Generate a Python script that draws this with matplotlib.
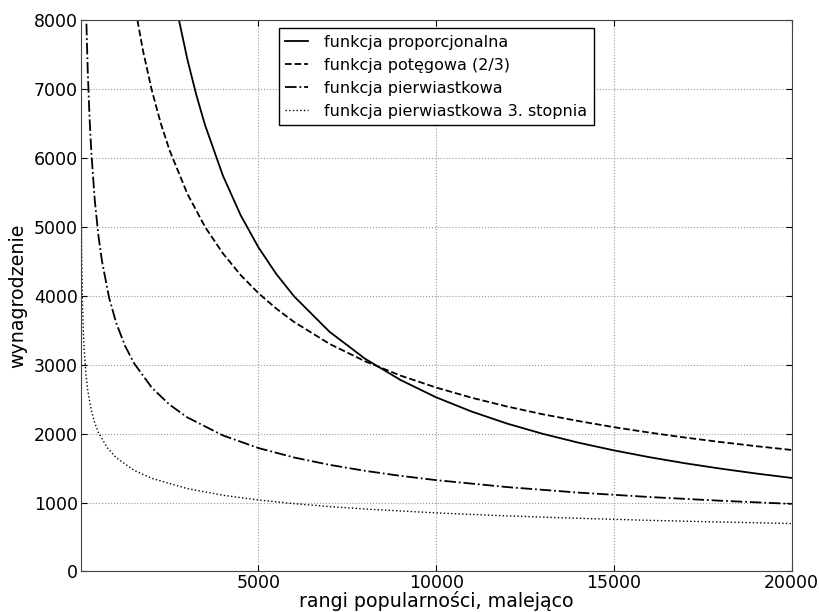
import matplotlib
matplotlib.use('Agg')
import matplotlib.pyplot as plt

# values
x_prop = [2750, 3000, 3250, 3500, 4000, 4500, 5000, 5500, 6000, 7000, 8000, 9000,
          10000, 11000, 12000, 13000, 14000, 15000, 16000, 17000, 18000, 19000, 20000]
y_prop = [8042, 7438, 6924, 6478, 5748, 5172, 4706, 4320, 3996, 3480, 3088, 2779,
          2528, 2321, 2146, 1998, 1870, 1758, 1659, 1571, 1493, 1422, 1358]

x_pow = [1550, 1750, 2000, 2250, 2500, 3000, 3500, 4000, 4500, 5000, 5500, 6000, 7000,
         8000, 9000, 10000, 11000, 12000, 13000, 14000, 15000, 16000, 17000, 18000,
         19000, 20000]
y_pow = [8138, 7568, 6988, 6512, 6115, 5484, 5001, 4618, 4303, 4040, 3817, 3623, 3304,
         3051, 2843, 2670, 2522, 2394, 2282, 2184, 2095, 2016, 1944, 1879,
         1819, 1764]

x_sqrt = [150, 175, 200, 250, 300, 400, 500, 600, 800, 1000, 1250, 1500, 2000, 2500,
          3000, 4000, 5000, 6000, 7000, 8000, 9000, 10000, 12000, 14000, 16000, 18000, 20000]
y_sqrt = [8228, 7694, 7261, 6590, 6087, 5371, 4875, 4504, 3974, 3607, 3274, 3024, 2669, 2422,
          2237, 1975, 1792, 1655, 1548, 1461, 1388, 1326, 1225, 1145, 1081, 1027, 981]

x_cbrt = [1, 2, 3, 5, 7, 10, 15, 20, 30, 50, 75, 100, 150, 200, 300, 400, 500, 750,
          1000, 1500, 2000, 3000, 4000, 5000, 6000, 7000, 8000, 10000, 12000, 14000,
          16000, 18000, 20000]
y_cbrt = [12108, 9915, 8821, 7613, 6908, 6233, 5545, 5104, 4541, 3919, 3486, 3208, 2855,
          2627, 2337, 2151, 2017, 1795, 1652, 1469, 1352, 1203, 1107, 1038, 985, 942, 907,
          850, 807, 772, 742, 718, 696]

labels = ['funkcja proporcjonalna', 'funkcja potęgowa (2/3)',
          'funkcja pierwiastkowa', 'funkcja pierwiastkowa 3. stopnia']

fig = plt.figure(figsize=(8.2, 6.12), dpi=100)
ax = fig.add_axes([0.0984, 0.0662, 0.867, 0.9006])

ax.plot(x_prop, y_prop, 'k-', lw=1.3, label=labels[0])
ax.plot(x_pow, y_pow, 'k--', lw=1.3, label=labels[1])
ax.plot(x_sqrt, y_sqrt, 'k-.', lw=1.3, label=labels[2])
ax.plot(x_cbrt, y_cbrt, 'k:', lw=1.0, label=labels[3])

ax.set_xlim(1, 20000)
ax.set_ylim(0, 8000)
ax.set_xticks([5000, 10000, 15000, 20000])
ax.set_yticks(range(0, 8001, 1000))
ax.grid(True, ls=':', color='#999999', lw=0.8)
ax.tick_params(direction='in', top=True, right=True, labelsize=12.5, pad=2, length=4)
for sp in ax.spines.values():
    sp.set_color('#444444')

ax.set_xlabel('rangi popularności, malejąco', fontsize=13.7, labelpad=-1)
ax.set_ylabel('wynagrodzenie', fontsize=13.7, labelpad=5)

leg = ax.legend(loc='upper center', fontsize=11.5, fancybox=False, borderaxespad=0.5,
                handlelength=1.45, handletextpad=1.0, labelspacing=0.5)
leg.get_frame().set_edgecolor('black')
leg.get_frame().set_alpha(1)

fig.savefig('out.png', dpi=100)
